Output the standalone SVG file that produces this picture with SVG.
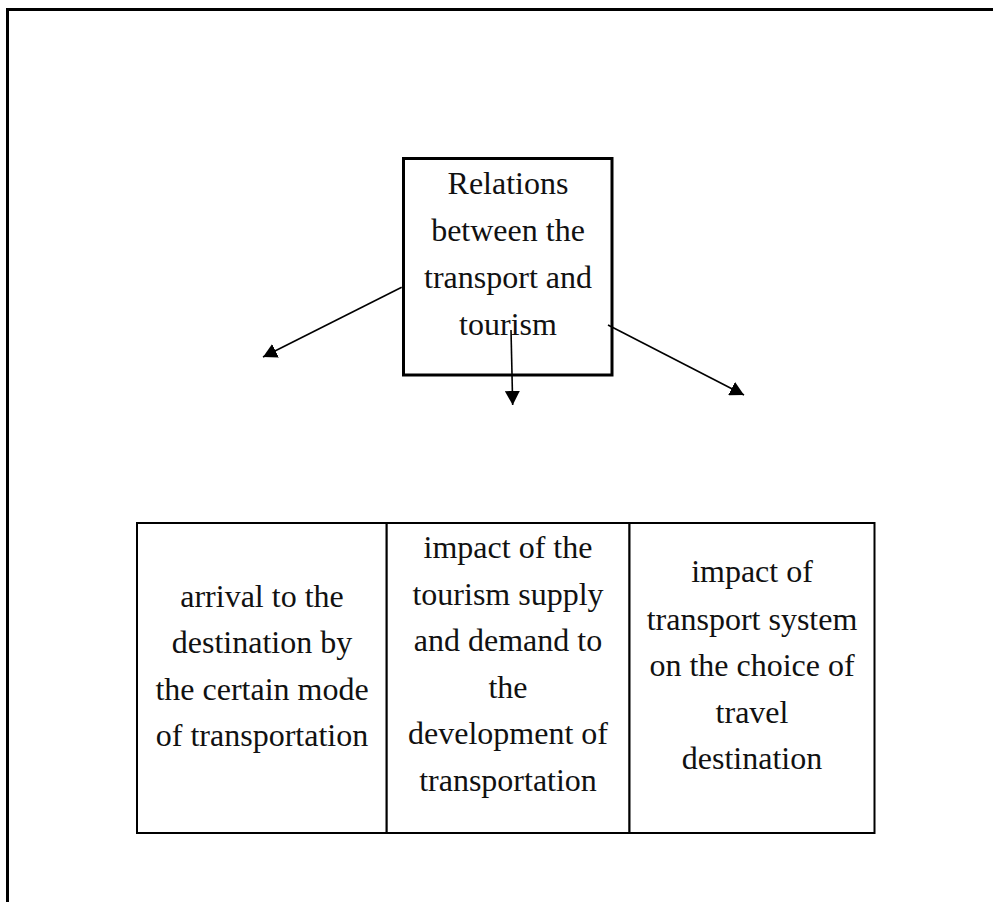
<svg xmlns="http://www.w3.org/2000/svg" width="993" height="902" viewBox="0 0 993 902">
<style>
.t{font-family:"Liberation Serif","Times New Roman",serif;font-size:32px;fill:#111;text-anchor:middle}
.frame{stroke:#000;stroke-width:3;fill:none}
.cell{stroke:#000;stroke-width:2;fill:#fff}
.conn{stroke:#000;stroke-width:1.6;fill:none;marker-end:url(#arr)}
</style>
<defs>
<marker id="arr" markerUnits="userSpaceOnUse" viewBox="0 0 14 15" markerWidth="14" markerHeight="15" refX="14" refY="7.5" orient="auto">
<path d="M0,0 L14,7.5 L0,15 z" fill="#000"/>
</marker>
</defs>
<rect width="993" height="902" fill="#fff"/>
<g id="frame">
<path class="frame" d="M7.5,902 V9.5 H993"/>
</g>
<g id="root">
<rect x="403.5" y="158.5" width="208.5" height="216.5" fill="#fff" stroke="#000" stroke-width="3"/>
<text class="t" x="508" y="194">Relations</text>
<text class="t" x="508" y="241">between the</text>
<text class="t" x="508" y="288">transport and</text>
<text class="t" x="508" y="335">tourism</text>
</g>
<g id="connectors">
<line class="conn" x1="401.7" y1="287.3" x2="263" y2="357"/>
<line class="conn" x1="511" y1="330" x2="512.7" y2="405"/>
<line class="conn" x1="608" y1="325" x2="744" y2="395"/>
</g>
<g id="cell1">
<rect class="cell" x="137" y="523" width="249.7" height="310"/>
<text class="t" x="262" y="607">arrival to the</text>
<text class="t" x="262" y="653">destination by</text>
<text class="t" x="262" y="700">the certain mode</text>
<text class="t" x="262" y="746">of transportation</text>
</g>
<g id="cell2">
<rect class="cell" x="386.7" y="523" width="242.8" height="310"/>
<text class="t" x="508" y="558">impact of the</text>
<text class="t" x="508" y="605">tourism supply</text>
<text class="t" x="508" y="651">and demand to</text>
<text class="t" x="508" y="698">the</text>
<text class="t" x="508" y="744">development of</text>
<text class="t" x="508" y="791">transportation</text>
</g>
<g id="cell3">
<rect class="cell" x="629.5" y="523" width="245" height="310"/>
<text class="t" x="752" y="582">impact of</text>
<text class="t" x="752" y="630">transport system</text>
<text class="t" x="752" y="676">on the choice of</text>
<text class="t" x="752" y="723">travel</text>
<text class="t" x="752" y="769">destination</text>
</g>
</svg>
